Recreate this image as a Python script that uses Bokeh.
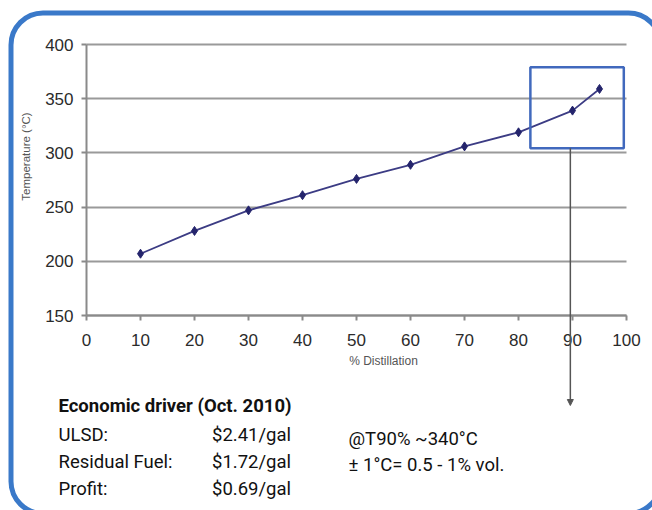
from bokeh.plotting import figure
from bokeh.models import (Range1d, Label, BoxAnnotation, Arrow, NormalHead, FixedTicker,
                          LinearAxis, Grid)
from bokeh.embed import file_html
from bokeh.resources import INLINE

# ---- data ----
distillation = [10, 20, 30, 40, 50, 60, 70, 80, 90, 95]
temperature = [207, 228, 247, 261, 276, 289, 306, 319, 339, 359]
x_ticks = [0, 10, 20, 30, 40, 50, 60, 70, 80, 90, 100]
y_ticks = [150, 200, 250, 300, 350, 400]
x_title = "% Distillation"
y_title = "Temperature (°C)"
driver_title = "Economic driver (Oct. 2010)"
driver_items = ["ULSD:", "Residual Fuel:", "Profit:"]
driver_values = ["$2.41/gal", "$1.72/gal", "$0.69/gal"]
note_lines = ["@T90% ~340°C", "± 1°C= 0.5 - 1% vol."]
highlight = dict(x0=82.2, x1=99.5, y0=304.3, y1=379.0)

# ---- layout: chart area on the page (pixels) ----
W, H = 652, 510
FX0, FX1, FY0, FY1 = 86, 626, 44, 315
XMIN, XMAX = x_ticks[0], x_ticks[-1]
YMIN, YMAX = y_ticks[0], y_ticks[-1]


def px2x(px):
    return XMIN + (px - FX0) * (XMAX - XMIN) / (FX1 - FX0)


def py2y(py):
    return YMIN + (FY1 - py) * (YMAX - YMIN) / (FY1 - FY0)


p = figure(width=W, height=H, output_backend="svg", toolbar_location=None,
           x_range=Range1d(px2x(0), px2x(W)), y_range=Range1d(py2y(H), py2y(0)),
           x_axis_type=None, y_axis_type=None,
           min_border=0, min_border_left=0, min_border_right=0,
           min_border_top=0, min_border_bottom=0)
p.outline_line_color = None
p.background_fill_color = "white"
p.border_fill_color = "white"

# ---- grid (horizontal lines only, limited to the chart area) ----
grid = Grid(dimension=1, ticker=FixedTicker(ticks=y_ticks), cross_bounds=(XMIN, XMAX),
            grid_line_color="#9a9a9a", grid_line_width=2)
p.add_layout(grid)

# ---- axes ----
xaxis = LinearAxis(fixed_location=YMIN, bounds=(XMIN, XMAX), ticker=FixedTicker(ticks=x_ticks))
yaxis = LinearAxis(fixed_location=XMIN, bounds=(YMIN, YMAX), ticker=FixedTicker(ticks=y_ticks))
for ax in (xaxis, yaxis):
    ax.axis_line_color = "#8a8a8a"
    ax.axis_line_width = 2
    ax.major_tick_line_color = "#8a8a8a"
    ax.major_tick_line_width = 2
    ax.major_tick_out = 5
    ax.major_tick_in = 0
    ax.minor_tick_line_color = None
    ax.major_label_text_font = "Liberation Sans"
    ax.major_label_text_font_size = "17px"
    ax.major_label_text_color = "#2b2b2b"
xaxis.major_label_standoff = 13
yaxis.major_label_standoff = 8
p.add_layout(xaxis, "below")
p.add_layout(yaxis, "left")

# ---- series ----
p.line(distillation, temperature, line_color="#3c3c84", line_width=1.8)
p.scatter(distillation, temperature, marker="diamond", size=9,
          fill_color="#24246c", line_color="#24246c")

# ---- highlight box and arrow ----
p.add_layout(BoxAnnotation(left=highlight["x0"], right=highlight["x1"],
                           bottom=highlight["y0"], top=highlight["y1"],
                           fill_color=None, fill_alpha=0, line_alpha=1,
                           line_color="#4169bd", line_width=2.5))
p.add_layout(Arrow(x_start=89.6, y_start=highlight["y0"], x_end=89.6, y_end=py2y(405),
                   line_color="#555555", line_width=1.5,
                   end=NormalHead(size=6, fill_color="#555555", line_color="#555555")))

# ---- outer rounded border ----
p.add_layout(BoxAnnotation(left=px2x(10.5), right=px2x(660), top=py2y(12.5), bottom=py2y(513),
                           fill_color=None, fill_alpha=0, line_color="#3a79c9", line_alpha=1,
                           line_width=5, border_radius=32))

# ---- axis titles ----
p.add_layout(Label(x=px2x(25), y=py2y(156), text=y_title, angle=90, angle_units="deg",
                   text_align="center", text_baseline="middle", text_font="Liberation Sans",
                   text_font_size="11.5px", text_color="#555555"))
p.add_layout(Label(x=px2x(383), y=py2y(360), text=x_title,
                   text_align="center", text_baseline="middle", text_font="Liberation Sans",
                   text_font_size="12px", text_color="#555555"))

# ---- bottom texts ----
FONT = "Roboto"
FS = "18.5px"
p.add_layout(Label(x=px2x(58), y=py2y(405.5), text=driver_title, text_font=FONT,
                   text_font_style="bold", text_font_size=FS, text_color="#111111",
                   text_baseline="alphabetic"))
for i, (item, val) in enumerate(zip(driver_items, driver_values)):
    base = 434 + 27 * i
    p.add_layout(Label(x=px2x(58), y=py2y(base), text=item, text_font=FONT,
                       text_font_size=FS, text_color="#111111", text_baseline="alphabetic"))
    p.add_layout(Label(x=px2x(211.5), y=py2y(base), text=val, text_font=FONT,
                       text_font_size=FS, text_color="#111111", text_baseline="alphabetic"))
for i, line in enumerate(note_lines):
    p.add_layout(Label(x=px2x(348), y=py2y(438 + 26.5 * i), text=line, text_font=FONT,
                       text_font_size=FS, text_color="#111111", text_baseline="alphabetic"))

open("out.html", "w").write(file_html(p, INLINE))
